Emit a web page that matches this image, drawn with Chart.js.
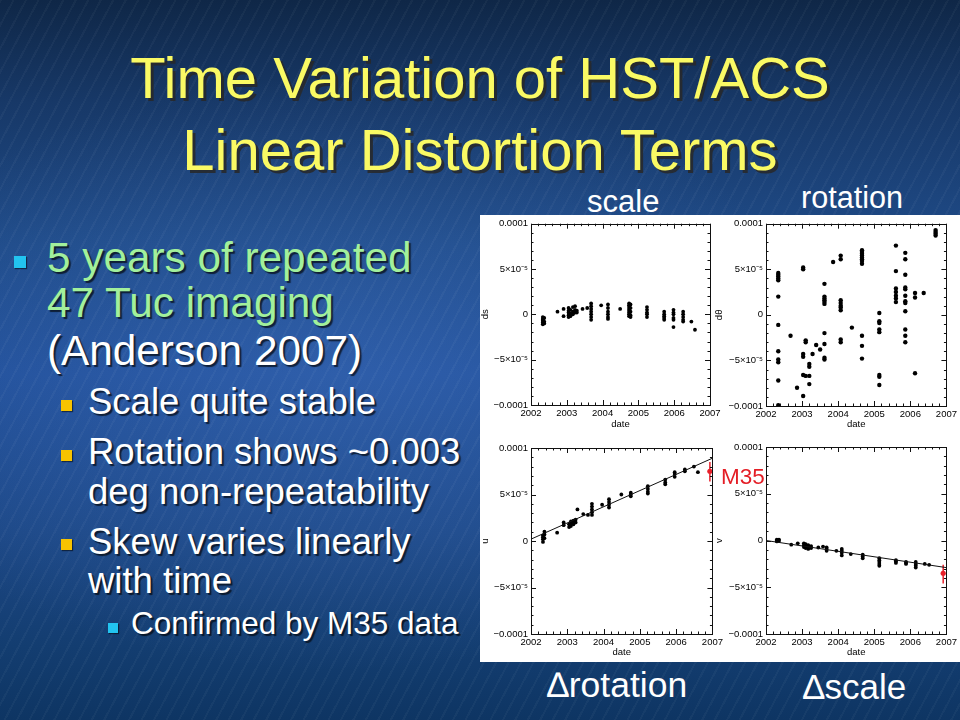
<!DOCTYPE html>
<html>
<head>
<meta charset="utf-8">
<script src="https://cdn.jsdelivr.net/npm/chart.js@4.4.1/dist/chart.umd.min.js"></script>
<style>
html,body{margin:0;padding:0;}
body{width:960px;height:720px;overflow:hidden;position:relative;font-family:"Liberation Sans",Arial,sans-serif;
background:
 repeating-linear-gradient(118deg, rgba(255,255,255,0.035) 0px, rgba(255,255,255,0.035) 2px, rgba(0,0,0,0) 2px, rgba(0,0,0,0) 11px),
 radial-gradient(ellipse 70% 55% at 35% 52%, rgba(70,120,200,0.35), rgba(0,0,0,0) 75%),
 linear-gradient(180deg,#0f2747 0%,#173867 14%,#1f4b88 34%,#22509a 52%,#1d4886 74%,#133d70 90%,#0e3563 100%);}
.t{position:absolute;white-space:nowrap;line-height:1;}
.title{left:0;width:960px;text-align:center;font-size:58px;color:#fafa64;text-shadow:3px 3px 0 rgba(40,40,40,0.85);}
.l1{left:47px;font-size:42.3px;text-shadow:2px 2px 1px rgba(0,0,0,0.65);}
.l2{left:88px;font-size:36.5px;color:#fff;text-shadow:2px 2px 1px rgba(0,0,0,0.65);}
.l3{left:131px;font-size:31.5px;color:#fff;text-shadow:2px 2px 1px rgba(0,0,0,0.65);}
.green{color:#a2f09c;}
.white{color:#ffffff;}
.sq{position:absolute;box-shadow:1px 1px 1px rgba(0,0,0,0.5);}
.lab{position:absolute;white-space:nowrap;line-height:1;color:#fff;}
#panel{position:absolute;left:480px;top:215px;width:480px;height:447px;background:#fff;}
canvas{position:absolute;}
</style>
</head>
<body>
<div class="t title" style="top:49px;">Time Variation of HST/ACS</div>
<div class="t title" style="top:121px;">Linear Distortion Terms</div>

<div class="sq" style="left:14px;top:256px;width:12px;height:12px;background:#22c4f0;"></div>
<div class="t l1 green" style="top:237px;">5 years of repeated</div>
<div class="t l1 green" style="top:282px;">47 Tuc imaging</div>
<div class="t l1 white" style="top:330px;">(Anderson 2007)</div>

<div class="sq" style="left:61px;top:400px;width:11px;height:11px;background:#f7c300;"></div>
<div class="t l2" style="top:384px;">Scale quite stable</div>
<div class="sq" style="left:61px;top:450px;width:11px;height:11px;background:#f7c300;"></div>
<div class="t l2" style="top:434px;">Rotation shows ~0.003</div>
<div class="t l2" style="top:474px;">deg non-repeatability</div>
<div class="sq" style="left:61px;top:539px;width:11px;height:11px;background:#f7c300;"></div>
<div class="t l2" style="top:524px;">Skew varies linearly</div>
<div class="t l2" style="top:563px;">with time</div>
<div class="sq" style="left:108px;top:623px;width:10px;height:10px;background:#22c4f0;"></div>
<div class="t l3" style="top:608px;">Confirmed by M35 data</div>

<div class="lab" style="left:587px;top:186px;font-size:31px;">scale</div>
<div class="lab" style="left:801px;top:182px;font-size:30.6px;">rotation</div>
<div class="lab" style="left:547px;top:668px;font-size:35.5px;">∆rotation</div>
<div class="lab" style="left:803px;top:669px;font-size:35px;">∆scale</div>

<div id="panel"></div>
<canvas id="c1" width="246" height="217" style="left:480px;top:215px;"></canvas>
<canvas id="c2" width="246" height="217" style="left:714px;top:215px;"></canvas>
<canvas id="c3" width="246" height="230" style="left:480px;top:432px;"></canvas>
<canvas id="c4" width="246" height="230" style="left:714px;top:432px;"></canvas>
<div class="lab" style="left:721px;top:466px;font-size:22.5px;color:#e41e26;">M35</div>

<script>
// ---- axis ticks (values in units of 1e-5) ----
const xTickYears = [2002, 2003, 2004, 2005, 2006, 2007];
const yTickValues = [-10, -5, 0, 5, 10];
const yTickLabels = ['\u22120.0001', '\u22125\u00d710\u207b\u2075', '0', '5\u00d710\u207b\u2075', '0.0001'];

// ---- scale (ds) ----
const scaleEpochs = [2002.33, 2002.37, 2002.74, 2002.91, 2003.05, 2003.10, 2003.17, 2003.23, 2003.28, 2003.44, 2003.57, 2003.68, 2003.96, 2004.15, 2004.49, 2004.74, 2004.78, 2005.24, 2005.72, 2005.98, 2006.25, 2006.48, 2006.58];
const scaleValues = [
  [-0.3, -0.5, -0.7, -0.9, -1.1, -0.6],
  [-0.4, -0.8, -1.0],
  [0.3],
  [0.6, -0.2],
  [0.7, 0.2, -0.1, -0.3, 0.4],
  [0.5, 0.1, -0.2],
  [0.8, 0.3, 0.0],
  [0.9, 0.5, 0.2],
  [0.4, 0.2],
  [0.6],
  [0.7],
  [1.2, 0.9, 0.6, 0.3, 0.0, -0.3, -0.6],
  [1.0],
  [1.1, 0.7, 0.3, 0.0, -0.3, -0.5],
  [0.6],
  [1.2, 1.0, 0.8, 0.6, 0.4, 0.2, 0.0, -0.2],
  [1.1, 0.7, 0.3, -0.1, -0.3],
  [0.8, 0.5, 0.2, 0.0, -0.3],
  [0.3, 0.0, -0.2, -0.4, -0.6],
  [0.5, 0.2, 0.0, -0.4, -0.6, -1.4],
  [0.3, 0.0, -0.3, -0.6, -0.8],
  [-0.8],
  [-1.7]
];

// ---- rotation (dθ) ----
const rotEpochs = [2002.34, 2002.68, 2002.86, 2003.03, 2003.10, 2003.20, 2003.29, 2003.39, 2003.50, 2003.62, 2003.86, 2004.07, 2004.38, 2004.66, 2005.14, 2005.60, 2005.86, 2006.13, 2006.37, 2006.70];
const rotValues = [
  [4.6, 4.4, 4.2, 4.0, 3.8, 2.0, -1.1, -4.0, -4.9, -5.2, -7.2, -9.9],
  [-2.3],
  [-8.0],
  [5.2, 5.0, -4.3, -4.6, -6.6, -8.9],
  [-2.8, -3.0, -6.7],
  [-5.4, -5.7, -6.7, -7.6],
  [-4.3],
  [-3.3],
  [-3.8],
  [3.4, 2.0, 1.8, 1.6, 1.4, 1.2, -2.0, -3.2, -4.7, -4.9],
  [5.8],
  [6.5, 6.1, 1.6, 1.3, 1.0, 0.8, 0.5, -2.7, -3.0],
  [-1.4],
  [7.1, 6.9, 6.7, 6.5, 6.3, 6.1, 5.9, 5.6, -2.3, -3.4, -4.8],
  [0.2, -0.7, -0.9, -1.6, -1.9, -6.6, -6.8, -7.7],
  [7.6, 4.8, 2.9, 2.5, 2.1, 1.8, 1.4],
  [6.8, 6.1, 4.4, 3.0, 2.8, 2.1, 1.5, 1.3, 0.4, -1.6, -2.3, -3.0],
  [2.4, 1.9, -6.4],
  [2.4],
  [9.3, 9.1, 8.9, 8.7]
];

// ---- delta rotation (u) ----
const uEpochs = [2002.33, 2002.37, 2002.72, 2002.90, 2003.05, 2003.10, 2003.17, 2003.23, 2003.28, 2003.44, 2003.57, 2003.68, 2003.96, 2004.15, 2004.49, 2004.75, 2005.22, 2005.70, 2005.96, 2006.24, 2006.49, 2006.60];
const uValues = [
  [-0.1, 0.2, 0.4, 0.6],
  [0.3, 0.7, 1.0],
  [0.9],
  [2.0, 1.7],
  [1.5, 1.8],
  [1.6, 1.9, 2.1],
  [1.8, 2.0, 2.2],
  [2.0, 2.3],
  [3.4],
  [2.9],
  [2.8],
  [4.0, 3.7, 3.4, 3.1, 2.8],
  [3.9],
  [4.5, 4.2, 3.9, 3.6],
  [5.0],
  [5.2, 5.0, 4.8],
  [5.9, 5.6, 5.3, 5.1],
  [6.6, 6.3, 6.1],
  [7.4, 7.2, 6.9],
  [7.7, 7.5],
  [8.0],
  [7.4]
];
const uFitDates = [2002, 2007];
const uFitValues = [0.2, 8.9];
const uM35Date = 2006.93, uM35Value = 7.5, uM35Low = 6.4, uM35High = 8.5;

// ---- delta scale (v) ----
const vEpochs = [2002.30, 2002.36, 2002.70, 2002.88, 2003.05, 2003.10, 2003.17, 2003.25, 2003.45, 2003.58, 2003.68, 2003.95, 2004.10, 2004.35, 2004.68, 2005.14, 2005.60, 2005.88, 2006.15, 2006.40, 2006.52];
const vValues = [
  [0.1, 0.0, -0.1],
  [0.1, -0.05],
  [-0.45],
  [-0.3],
  [-0.3, -0.5, -0.7],
  [-0.4, -0.6, -0.8],
  [-0.5, -0.7, -0.9],
  [-0.6, -0.8],
  [-0.75],
  [-0.65],
  [-0.75, -0.9, -1.1],
  [-1.1],
  [-0.9, -1.1, -1.3, -1.6],
  [-1.45],
  [-1.5, -1.7, -1.9],
  [-1.9, -2.1, -2.3, -2.5, -2.7],
  [-2.1, -2.25, -2.4],
  [-2.3, -2.4, -2.5],
  [-2.3, -2.5, -2.7, -2.9],
  [-2.5],
  [-2.6]
];
const vFitDates = [2002, 2007];
const vFitValues = [0.0, -2.9];
const vM35Date = 2006.91, vM35Value = -3.5, vM35Low = -4.6, vM35High = -2.6;

// ---- helpers ----
function toPoints(epochs, values) {
  const pts = [];
  epochs.forEach((t, i) => values[i].forEach(v => pts.push({x: t, y: v})));
  return pts;
}
function pairPoints(xs, ys) { return xs.map((x, i) => ({x: x, y: ys[i]})); }

const framePlugin = {
  id: 'pgframe',
  afterDraw(chart) {
    const {ctx, chartArea: a, scales: {x, y}} = chart;
    ctx.save();
    ctx.strokeStyle = '#111';
    ctx.lineWidth = 1;
    ctx.strokeRect(Math.round(a.left) + 0.5, Math.round(a.top) + 0.5, Math.round(a.right - a.left), Math.round(a.bottom - a.top));
    ctx.beginPath();
    for (let k = 0; k <= 25; k++) {
      const v = x.min + k * 0.2;
      const px = Math.round(x.getPixelForValue(v)) + 0.5;
      const len = (k % 5 === 0) ? 5 : 2.5;
      ctx.moveTo(px, a.bottom); ctx.lineTo(px, a.bottom - len);
      ctx.moveTo(px, a.top); ctx.lineTo(px, a.top + len);
    }
    for (let k = 0; k <= 20; k++) {
      const v = y.min + k;
      const py = Math.round(y.getPixelForValue(v)) + 0.5;
      const len = (k % 5 === 0) ? 5 : 2.5;
      ctx.moveTo(a.left, py); ctx.lineTo(a.left + len, py);
      ctx.moveTo(a.right, py); ctx.lineTo(a.right - len, py);
    }
    ctx.stroke();
    ctx.restore();
  }
};

const tickFont = {family: '"Liberation Sans", Arial, sans-serif', size: 9.5};

function makeChart(id, datasets, yTitle, geo) {
  return new Chart(document.getElementById(id), {
    type: 'scatter',
    data: {datasets: datasets},
    options: {
      responsive: false,
      animation: false,
      devicePixelRatio: 1,
      layout: {padding: {left: 0, top: geo.top, right: geo.right, bottom: 0}},
      plugins: {legend: {display: false}, tooltip: {enabled: false}},
      scales: {
        x: {
          type: 'linear', min: 2002, max: 2007,
          grid: {display: false, drawTicks: false},
          border: {display: false},
          afterBuildTicks: s => { s.ticks = xTickYears.map(v => ({value: v})); },
          ticks: {color: '#000', font: tickFont, padding: 3, maxRotation: 0, autoSkip: false,
                  callback: v => String(v)},
          title: {display: true, text: 'date', color: '#000', font: tickFont, padding: {top: 0, bottom: geo.dateGap}},
          afterFit: s => { s.height = geo.xH; }
        },
        y: {
          type: 'linear', min: -10, max: 10,
          grid: {display: false, drawTicks: false},
          border: {display: false},
          afterBuildTicks: s => { s.ticks = yTickValues.map(v => ({value: v})); },
          ticks: {color: '#000', font: tickFont, padding: 3, autoSkip: false,
                  callback: v => yTickLabels[yTickValues.indexOf(v)]},
          title: {display: true, text: yTitle, color: '#000', font: tickFont, padding: {top: 0, bottom: 0}},
          afterFit: s => { s.width = geo.yW; }
        }
      }
    },
    plugins: [framePlugin]
  });
}

function dots(pts, r) {
  return {data: pts, pointRadius: r, pointHoverRadius: r, pointBackgroundColor: '#000', pointBorderWidth: 0, borderColor: '#000', showLine: false};
}
function fitLine(pts) {
  return {data: pts, showLine: true, borderColor: '#111', borderWidth: 1, pointRadius: 0, pointHoverRadius: 0};
}
function errBar(xv, lo, hi) {
  return {data: [{x: xv, y: lo}, {x: xv, y: hi}], showLine: true, borderColor: '#e8202a', borderWidth: 1.5, pointRadius: 0, pointHoverRadius: 0};
}
function redDot(xv, yv) {
  return {data: [{x: xv, y: yv}], pointRadius: 2.6, pointBackgroundColor: '#e8202a', pointBorderWidth: 0, showLine: false};
}

makeChart('c1', [dots(toPoints(scaleEpochs, scaleValues), 1.9)], 'ds', {top: 5, right: 16, yW: 51, xH: 27, dateGap: 2});
makeChart('c2', [dots(toPoints(rotEpochs, rotValues), 2.2)], 'd\u03b8', {top: 6, right: 11, yW: 52, xH: 26, dateGap: 2});
makeChart('c3', [
  fitLine(pairPoints(uFitDates, uFitValues)),
  dots(toPoints(uEpochs, uValues), 1.9),
  errBar(uM35Date, uM35Low, uM35High),
  redDot(uM35Date, uM35Value)
], 'u', {top: 16, right: 12, yW: 51, xH: 28, dateGap: 4});
makeChart('c4', [
  fitLine(pairPoints(vFitDates, vFitValues)),
  dots(toPoints(vEpochs, vValues), 1.9),
  errBar(vM35Date, vM35Low, vM35High),
  redDot(vM35Date, vM35Value)
], 'v', {top: 15, right: 13, yW: 52, xH: 28, dateGap: 4});
</script>
</body>
</html>
